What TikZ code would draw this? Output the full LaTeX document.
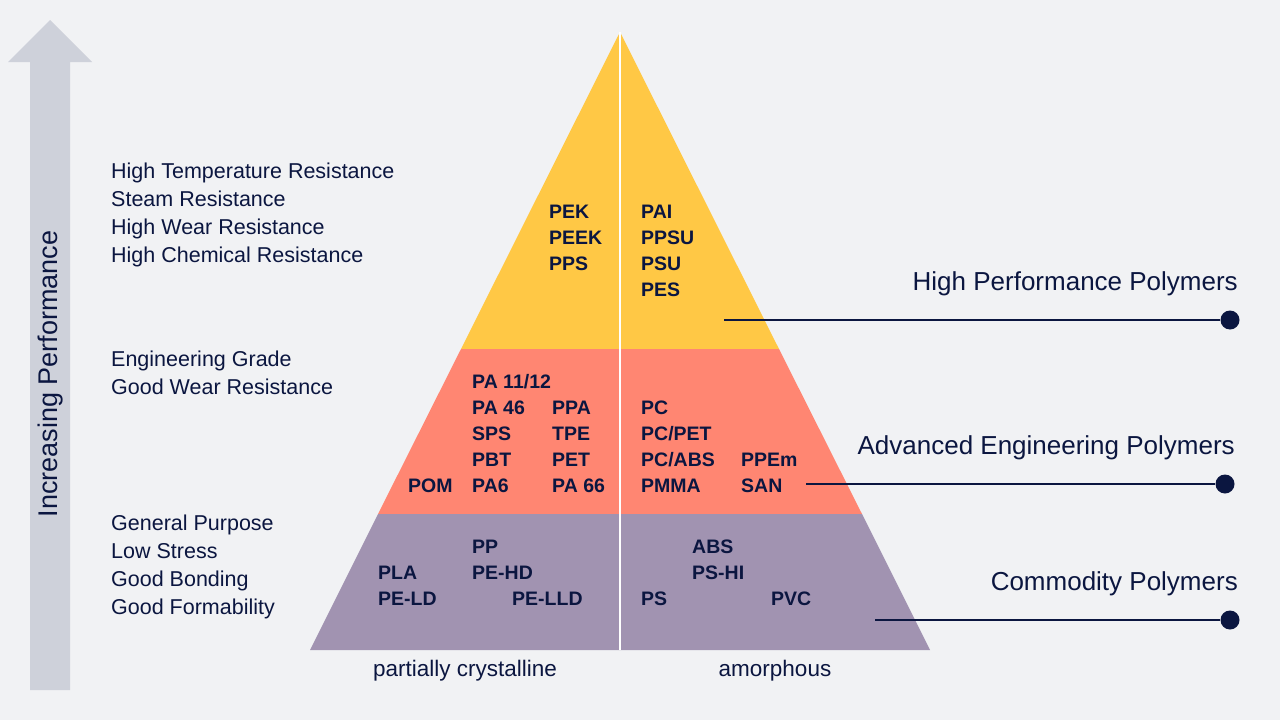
\documentclass[tikz,border=0pt]{standalone}
\usepackage{fontspec}
\setmainfont{Liberation Sans}
\definecolor{bggrey}{HTML}{F1F2F4}
\definecolor{arrowgrey}{HTML}{CED1DA}
\definecolor{hpyellow}{HTML}{FFC845}
\definecolor{aesalmon}{HTML}{FF8672}
\definecolor{cmpurple}{HTML}{A193B1}
\definecolor{ink}{HTML}{0B1640}
\tikzset{
  poly/.style={anchor=base west, inner sep=0pt, text=ink, font=\fontsize{19.5}{21}\selectfont\bfseries},
  prop/.style={anchor=base west, inner sep=0pt, text=ink, font=\fontsize{21.5}{24}\selectfont},
  tier/.style={anchor=base east, inner sep=0pt, text=ink, font=\fontsize{26}{30}\selectfont},
  enddot/.style={circle, fill=ink, inner sep=0pt, minimum size=19pt},
}

\begin{document}
\begin{tikzpicture}[x=1pt,y=-1pt]
    \useasboundingbox (0,0) rectangle (1280,720);
    \fill[bggrey] (0,0) rectangle (1280,720);
    % performance arrow
    \fill[arrowgrey] (30,690) -- (30,62) -- (8,62) -- (50,20) -- (92,62) -- (70,62) -- (70,690) -- cycle;
    \node[rotate=90, inner sep=0pt, text=ink, font=\fontsize{27}{30}\selectfont] (perf) at (51,374) {Increasing Performance};
    % pyramid
    \fill[hpyellow] (620,32) -- (461,349) -- (779,349) -- cycle;
    \fill[aesalmon] (461,349) -- (378,514) -- (862,514) -- (779,349) -- cycle;
    \fill[cmpurple] (378,514) -- (310,650) -- (930,650) -- (862,514) -- cycle;
    \draw[white, line width=2pt] (620,32) -- (620,650);
    % properties
    \node[prop] (p1) at (111,178) {High Temperature Resistance};
    \node[prop] (p2) at (111,206) {Steam Resistance};
    \node[prop] (p3) at (111,234) {High Wear Resistance};
    \node[prop] (p4) at (111,262) {High Chemical Resistance};
    \node[prop] (p5) at (111,366) {Engineering Grade};
    \node[prop] (p6) at (111,394) {Good Wear Resistance};
    \node[prop] (p7) at (111,530) {General Purpose};
    \node[prop] (p8) at (111,558) {Low Stress};
    \node[prop] (p9) at (111,586) {Good Bonding};
    \node[prop] (p10) at (111,614) {Good Formability};
    % high performance
    \node[poly] (pek) at (549,218) {PEK};
    \node[poly] (peek) at (549,244) {PEEK};
    \node[poly] (pps) at (549,270) {PPS};
    \node[poly] (pai) at (641,218) {PAI};
    \node[poly] (ppsu) at (641,244) {PPSU};
    \node[poly] (psu) at (641,270) {PSU};
    \node[poly] (pes) at (641,296) {PES};
    % advanced engineering
    \node[poly] (pa1112) at (472,388) {PA 11/12};
    \node[poly] (pa46) at (472,414) {PA 46};
    \node[poly] (ppa) at (552,414) {PPA};
    \node[poly] (sps) at (472,440) {SPS};
    \node[poly] (tpe) at (552,440) {TPE};
    \node[poly] (pbt) at (472,466) {PBT};
    \node[poly] (pet) at (552,466) {PET};
    \node[poly] (pom) at (408,492) {POM};
    \node[poly] (pa6) at (472,492) {PA6};
    \node[poly] (pa66) at (552,492) {PA 66};
    \node[poly] (pc) at (641,414) {PC};
    \node[poly] (pcpet) at (641,440) {PC/PET};
    \node[poly] (pcabs) at (641,466) {PC/ABS};
    \node[poly] (ppem) at (741,466) {PPEm};
    \node[poly] (pmma) at (641,492) {PMMA};
    \node[poly] (san) at (741,492) {SAN};
    % commodity
    \node[poly] (pp) at (472,553) {PP};
    \node[poly] (pla) at (378,579) {PLA};
    \node[poly] (pehd) at (472,579) {PE-HD};
    \node[poly] (peld) at (378,605) {PE-LD};
    \node[poly] (pelld) at (512,605) {PE-LLD};
    \node[poly] (abs) at (692,553) {ABS};
    \node[poly] (pshi) at (692,579) {PS-HI};
    \node[poly] (ps) at (641,605) {PS};
    \node[poly] (pvc) at (771,605) {PVC};
    % base labels
    \node[inner sep=0pt, text=ink, font=\fontsize{22.5}{26}\selectfont] (crys) at (465,671) {partially crystalline};
    \node[inner sep=0pt, text=ink, font=\fontsize{22.5}{26}\selectfont] (amor) at (775,671) {amorphous};
    % tiers
    \node[tier] (hpp) at (1238,290) {High Performance Polymers};
    \node[tier] (aep) at (1235,454) {Advanced Engineering Polymers};
    \node[tier] (cp) at (1238,590) {Commodity Polymers};
    \coordinate (hpp-start) at (724,320);
    \coordinate (aep-start) at (806,484);
    \coordinate (cp-start) at (875,620);
    \node[enddot] (hpp-dot) at (1230,320) {};
    \node[enddot] (aep-dot) at (1225,484) {};
    \node[enddot] (cp-dot) at (1230,620) {};
    \draw[ink, line width=2pt] (hpp-start) -- (hpp-dot);
    \draw[ink, line width=2pt] (aep-start) -- (aep-dot);
    \draw[ink, line width=2pt] (cp-start) -- (cp-dot);
\end{tikzpicture}
\end{document}
